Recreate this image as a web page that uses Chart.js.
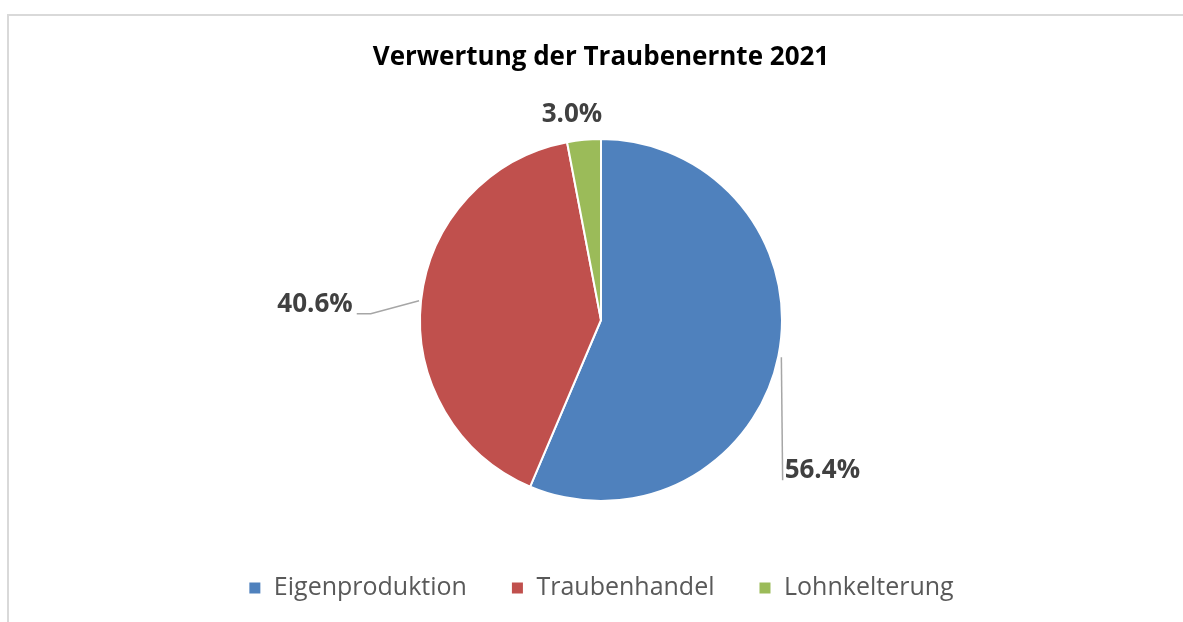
<!DOCTYPE html>
<html>
<head>
<meta charset="utf-8">
<script src="https://cdn.jsdelivr.net/npm/chart.js@4"></script>
<style>
  body { margin: 0; overflow: hidden; background: #fff; }
  .frame { position: absolute; left: 7px; top: 14px; width: 1300px; height: 700px; border: 2px solid #d9d9d9; }
  #chart { position: absolute; left: 0; top: 0; }
</style>
</head>
<body>
<div class="frame"></div>
<canvas id="chart" width="1183" height="622"></canvas>
<script>
const categories = ['Eigenproduktion', 'Traubenhandel', 'Lohnkelterung'];
const shares = [56.4, 40.6, 3.0];
const sliceColors = ['#4f81bd', '#c0504d', '#9bbb59'];

// label offset from the slice's outer mid point, and leader style
const labelPlace = [
  {dx: 44, dy: 114, leader: 'down'},
  {dx: -106, dy: 4, leader: 'elbow'},
  {dx: -12, dy: -25, leader: null}
];

const sliceLabels = {
  id: 'sliceLabels',
  afterDatasetsDraw(chart) {
    const ctx = chart.ctx;
    const meta = chart.getDatasetMeta(0);
    ctx.save();
    ctx.font = 'bold 26px "Open Sans"';
    ctx.textBaseline = 'middle';
    ctx.textAlign = 'center';
    meta.data.forEach((arc, i) => {
      const p = arc.getProps(['x', 'y', 'startAngle', 'endAngle', 'outerRadius'], true);
      const mid = (p.startAngle + p.endAngle) / 2;
      const ax = p.x + Math.cos(mid) * p.outerRadius;
      const ay = p.y + Math.sin(mid) * p.outerRadius;
      const pl = labelPlace[i];
      const lx = ax + pl.dx, ly = ay + pl.dy;
      const txt = shares[i].toFixed(1) + '%';
      const w = ctx.measureText(txt).width;

      ctx.strokeStyle = '#a6a6a6';
      ctx.lineWidth = 1.5;
      if (pl.leader === 'down') {
        ctx.beginPath();
        ctx.moveTo(ax + 3, ay + 1);
        ctx.lineTo(lx - w / 2 - 2, ly + 10);
        ctx.stroke();
      } else if (pl.leader === 'elbow') {
        const sx = lx + w / 2 + 4;
        ctx.beginPath();
        ctx.moveTo(sx, ly + 9);
        ctx.lineTo(sx + 14, ly + 9);
        ctx.lineTo(ax - 2, ay);
        ctx.stroke();
      }
      ctx.fillStyle = '#404040';
      ctx.fillText(txt, lx, ly);
    });
    ctx.restore();
  }
};

const ctx1 = document.getElementById('chart').getContext('2d');
const pieChart = new Chart(ctx1, {
  type: 'pie',
  data: {
    labels: categories,
    datasets: [{
      data: shares,
      backgroundColor: sliceColors,
      borderColor: '#ffffff',
      borderWidth: 2,
      radius: 181
    }]
  },
  options: {
    responsive: false,
    animation: false,
    layout: {
      padding: {left: 19, right: 0, top: 0, bottom: 11.5}
    },
    plugins: {
      title: {
        display: true,
        text: 'Verwertung der Traubenernte 2021',
        color: '#000000',
        font: {family: '"Open Sans"', size: 26, weight: 'bold', lineHeight: 1.2},
        padding: {top: 42.4, bottom: 34.9}
      },
      legend: {
        position: 'bottom',
        labels: {
          boxWidth: 13,
          boxHeight: 13,
          padding: 44,
          color: '#595959',
          font: {family: '"Open Sans"', size: 25}
        }
      },
      tooltip: {enabled: false}
    }
  },
  plugins: [sliceLabels]
});
</script>
</body>
</html>
